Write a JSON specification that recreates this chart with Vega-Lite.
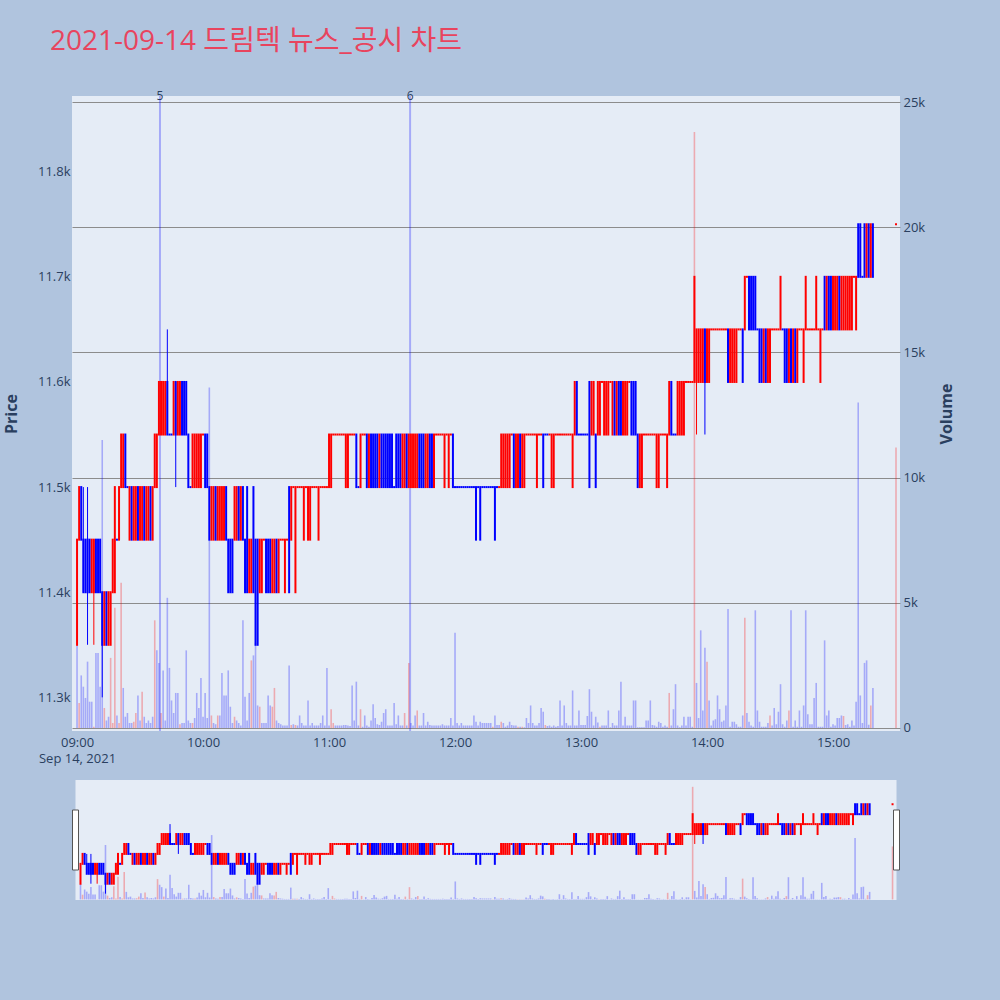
{
"$schema":"https://vega.github.io/schema/vega-lite/v6.json",
"background":"#b0c4de",
"padding":{"left":3,"top":28,"right":45,"bottom":106},
"autosize":{"type":"pad"},
"config":{"font":"Open Sans, Noto Sans CJK KR","view":{"stroke":null},"axis":{"labelColor":"#2a3f5f","titleColor":"#2a3f5f","labelFont":"Open Sans","titleFont":"Open Sans","labelFontSize":13,"domain":false,"ticks":false,"labelOverlap":false,"labelFlush":false}},
"title":{"text":"2021-09-14 드림텍 뉴스_공시 차트","anchor":"start","frame":"group","fontSize":28,"fontWeight":"normal","color":"#e8445e","font":"Open Sans, Noto Sans CJK KR","dx":-22,"offset":34},
"data":{"values":[
{"t":"2021-09-14T09:00Z","o":11350,"c":11450,"v":3300,"d":"u"},
{"t":"2021-09-14T09:01Z","o":11450,"c":11500,"v":1000,"d":"u","vu":1},
{"t":"2021-09-14T09:02Z","o":11500,"c":11450,"v":2100,"d":"d"},
{"t":"2021-09-14T09:03Z","o":11450,"c":11400,"h":11500,"l":11400,"v":1650,"d":"d"},
{"t":"2021-09-14T09:04Z","o":11450,"c":11400,"v":1200,"d":"d"},
{"t":"2021-09-14T09:05Z","o":11450,"c":11400,"h":11500,"l":11350,"v":2650,"d":"d"},
{"t":"2021-09-14T09:06Z","o":11450,"c":11400,"v":1050,"d":"d"},
{"t":"2021-09-14T09:07Z","o":11400,"c":11450,"v":1050,"d":"u"},
{"t":"2021-09-14T09:08Z","o":11400,"c":11450,"h":11450,"l":11350,"v":50,"d":"u","vu":1},
{"t":"2021-09-14T09:09Z","o":11450,"c":11400,"v":3000,"d":"d"},
{"t":"2021-09-14T09:10Z","o":11450,"c":11400,"v":3000,"d":"d"},
{"t":"2021-09-14T09:11Z","o":11450,"c":11400,"v":1650,"d":"d"},
{"t":"2021-09-14T09:12Z","o":11400,"c":11350,"h":11400,"l":11300,"v":11500,"d":"d"},
{"t":"2021-09-14T09:13Z","o":11350,"c":11400,"v":800,"d":"u","vu":1},
{"t":"2021-09-14T09:14Z","o":11400,"c":11350,"v":300,"d":"d"},
{"t":"2021-09-14T09:15Z","o":11350,"c":11400,"v":450,"d":"u"},
{"t":"2021-09-14T09:16Z","o":11350,"c":11400,"v":2800,"d":"u","vu":1},
{"t":"2021-09-14T09:17Z","o":11400,"c":11450,"v":200,"d":"u","vu":1},
{"t":"2021-09-14T09:18Z","o":11400,"c":11500,"v":4800,"d":"u","vu":1},
{"t":"2021-09-14T09:19Z","o":11450,"c":11450,"v":500,"d":"d"},
{"t":"2021-09-14T09:20Z","o":11450,"c":11500,"v":200,"d":"u","vu":1},
{"t":"2021-09-14T09:21Z","o":11500,"c":11550,"v":5800,"d":"u","vu":1},
{"t":"2021-09-14T09:22Z","o":11500,"c":11550,"v":1600,"d":"u"},
{"t":"2021-09-14T09:23Z","o":11550,"c":11500,"v":450,"d":"d"},
{"t":"2021-09-14T09:24Z","o":11500,"c":11500,"v":600,"d":"d"},
{"t":"2021-09-14T09:25Z","o":11450,"c":11500,"v":200,"d":"u"},
{"t":"2021-09-14T09:26Z","o":11500,"c":11450,"v":200,"d":"d"},
{"t":"2021-09-14T09:27Z","o":11450,"c":11500,"v":250,"d":"u","vu":1},
{"t":"2021-09-14T09:28Z","o":11450,"c":11500,"v":600,"d":"u","vu":1},
{"t":"2021-09-14T09:29Z","o":11500,"c":11450,"v":1300,"d":"d"},
{"t":"2021-09-14T09:30Z","o":11450,"c":11500,"v":300,"d":"u"},
{"t":"2021-09-14T09:31Z","o":11450,"c":11500,"v":1450,"d":"u","vu":1},
{"t":"2021-09-14T09:32Z","o":11500,"c":11450,"v":450,"d":"d"},
{"t":"2021-09-14T09:33Z","o":11450,"c":11500,"v":200,"d":"u"},
{"t":"2021-09-14T09:34Z","o":11450,"c":11500,"v":300,"d":"u"},
{"t":"2021-09-14T09:35Z","o":11500,"c":11450,"v":200,"d":"d"},
{"t":"2021-09-14T09:36Z","o":11450,"c":11500,"v":450,"d":"u"},
{"t":"2021-09-14T09:37Z","o":11500,"c":11550,"v":4300,"d":"u","vu":1},
{"t":"2021-09-14T09:38Z","o":11500,"c":11550,"v":3100,"d":"u"},
{"t":"2021-09-14T09:39Z","o":11550,"c":11600,"v":2600,"d":"u"},
{"t":"2021-09-14T09:40Z","o":11550,"c":11600,"v":600,"d":"u","vu":1},
{"t":"2021-09-14T09:41Z","o":11550,"c":11600,"v":2300,"d":"u"},
{"t":"2021-09-14T09:42Z","o":11550,"c":11600,"v":300,"d":"u"},
{"t":"2021-09-14T09:43Z","o":11600,"c":11550,"h":11650,"l":11550,"v":5200,"d":"d"},
{"t":"2021-09-14T09:44Z","o":11550,"c":11550,"v":2400,"d":"d"},
{"t":"2021-09-14T09:45Z","o":11550,"c":11550,"v":1100,"d":"d"},
{"t":"2021-09-14T09:46Z","o":11550,"c":11600,"v":600,"d":"u"},
{"t":"2021-09-14T09:47Z","o":11600,"c":11550,"h":11600,"l":11500,"v":1400,"d":"d"},
{"t":"2021-09-14T09:48Z","o":11550,"c":11600,"v":1400,"d":"u"},
{"t":"2021-09-14T09:49Z","o":11550,"c":11600,"v":150,"d":"u","vu":1},
{"t":"2021-09-14T09:50Z","o":11600,"c":11550,"v":200,"d":"d"},
{"t":"2021-09-14T09:51Z","o":11600,"c":11550,"v":200,"d":"d"},
{"t":"2021-09-14T09:52Z","o":11600,"c":11550,"v":3100,"d":"d"},
{"t":"2021-09-14T09:53Z","o":11550,"c":11500,"v":300,"d":"d"},
{"t":"2021-09-14T09:54Z","o":11500,"c":11500,"v":200,"d":"d"},
{"t":"2021-09-14T09:55Z","o":11500,"c":11550,"v":200,"d":"u","vu":1},
{"t":"2021-09-14T09:56Z","o":11500,"c":11550,"v":400,"d":"u"},
{"t":"2021-09-14T09:57Z","o":11500,"c":11550,"v":1400,"d":"u"},
{"t":"2021-09-14T09:58Z","o":11500,"c":11550,"v":800,"d":"u"},
{"t":"2021-09-14T09:59Z","o":11500,"c":11550,"v":2000,"d":"u"},
{"t":"2021-09-14T10:00Z","o":11550,"c":11550,"v":450,"d":"u"},
{"t":"2021-09-14T10:01Z","o":11550,"c":11500,"v":1400,"d":"d"},
{"t":"2021-09-14T10:02Z","o":11550,"c":11500,"v":400,"d":"d"},
{"t":"2021-09-14T10:03Z","o":11500,"c":11450,"v":13600,"d":"d"},
{"t":"2021-09-14T10:04Z","o":11450,"c":11500,"v":500,"d":"u","vu":1},
{"t":"2021-09-14T10:05Z","o":11450,"c":11500,"v":200,"d":"u"},
{"t":"2021-09-14T10:06Z","o":11500,"c":11450,"v":150,"d":"d"},
{"t":"2021-09-14T10:07Z","o":11450,"c":11500,"v":500,"d":"u","vu":1},
{"t":"2021-09-14T10:08Z","o":11450,"c":11500,"v":500,"d":"u"},
{"t":"2021-09-14T10:09Z","o":11450,"c":11500,"v":2200,"d":"u"},
{"t":"2021-09-14T10:10Z","o":11450,"c":11500,"v":1300,"d":"u"},
{"t":"2021-09-14T10:11Z","o":11500,"c":11450,"v":1300,"d":"d"},
{"t":"2021-09-14T10:12Z","o":11450,"c":11400,"v":2300,"d":"d"},
{"t":"2021-09-14T10:13Z","o":11450,"c":11400,"v":850,"d":"d"},
{"t":"2021-09-14T10:14Z","o":11450,"c":11400,"v":200,"d":"d"},
{"t":"2021-09-14T10:15Z","o":11450,"c":11500,"v":450,"d":"u","vu":1},
{"t":"2021-09-14T10:16Z","o":11450,"c":11500,"v":300,"d":"u"},
{"t":"2021-09-14T10:17Z","o":11500,"c":11450,"v":200,"d":"d"},
{"t":"2021-09-14T10:18Z","o":11450,"c":11500,"v":100,"d":"u"},
{"t":"2021-09-14T10:19Z","o":11500,"c":11450,"v":4300,"d":"d"},
{"t":"2021-09-14T10:20Z","o":11450,"c":11400,"v":1250,"d":"d"},
{"t":"2021-09-14T10:21Z","o":11500,"c":11400,"v":300,"d":"d"},
{"t":"2021-09-14T10:22Z","o":11400,"c":11450,"v":1400,"d":"u"},
{"t":"2021-09-14T10:23Z","o":11400,"c":11450,"v":2700,"d":"u","vu":1},
{"t":"2021-09-14T10:24Z","o":11500,"c":11400,"v":2900,"d":"d"},
{"t":"2021-09-14T10:25Z","o":11450,"c":11350,"v":3400,"d":"d"},
{"t":"2021-09-14T10:26Z","o":11450,"c":11350,"v":900,"d":"d"},
{"t":"2021-09-14T10:27Z","o":11400,"c":11450,"v":850,"d":"u","vu":1},
{"t":"2021-09-14T10:28Z","o":11400,"c":11450,"v":200,"d":"u"},
{"t":"2021-09-14T10:29Z","o":11450,"c":11450,"v":200,"d":"u"},
{"t":"2021-09-14T10:30Z","o":11450,"c":11400,"v":200,"d":"d"},
{"t":"2021-09-14T10:31Z","o":11450,"c":11400,"v":1300,"d":"d"},
{"t":"2021-09-14T10:32Z","o":11450,"c":11400,"v":900,"d":"d"},
{"t":"2021-09-14T10:33Z","o":11400,"c":11450,"v":850,"d":"u","vu":1},
{"t":"2021-09-14T10:34Z","o":11400,"c":11450,"v":1600,"d":"u","vu":1},
{"t":"2021-09-14T10:35Z","o":11450,"c":11400,"v":300,"d":"d"},
{"t":"2021-09-14T10:36Z","o":11400,"c":11450,"v":200,"d":"u"},
{"t":"2021-09-14T10:37Z","o":11450,"c":11450,"v":150,"d":"u"},
{"t":"2021-09-14T10:38Z","o":11450,"c":11450,"v":100,"d":"u"},
{"t":"2021-09-14T10:39Z","o":11400,"c":11450,"v":100,"d":"u"},
{"t":"2021-09-14T10:40Z","o":11450,"c":11450,"v":100,"d":"u"},
{"t":"2021-09-14T10:41Z","o":11500,"c":11400,"v":2500,"d":"d"},
{"t":"2021-09-14T10:42Z","o":11450,"c":11500,"v":120,"d":"u","vu":1},
{"t":"2021-09-14T10:43Z","o":11500,"c":11500,"v":150,"d":"u"},
{"t":"2021-09-14T10:44Z","o":11400,"c":11500,"v":120,"d":"u","vu":1},
{"t":"2021-09-14T10:45Z","o":11500,"c":11500,"v":100,"d":"u"},
{"t":"2021-09-14T10:46Z","o":11500,"c":11500,"v":500,"d":"u"},
{"t":"2021-09-14T10:47Z","o":11500,"c":11500,"v":200,"d":"u"},
{"t":"2021-09-14T10:48Z","o":11450,"c":11500,"v":100,"d":"u"},
{"t":"2021-09-14T10:49Z","o":11500,"c":11500,"v":100,"d":"u"},
{"t":"2021-09-14T10:50Z","o":11450,"c":11500,"v":1100,"d":"u"},
{"t":"2021-09-14T10:51Z","o":11450,"c":11500,"v":100,"d":"u"},
{"t":"2021-09-14T10:52Z","o":11500,"c":11500,"v":200,"d":"u"},
{"t":"2021-09-14T10:53Z","o":11500,"c":11500,"v":100,"d":"u"},
{"t":"2021-09-14T10:54Z","o":11500,"c":11500,"v":100,"d":"u"},
{"t":"2021-09-14T10:55Z","o":11450,"c":11500,"v":100,"d":"u"},
{"t":"2021-09-14T10:56Z","o":11500,"c":11500,"v":200,"d":"u"},
{"t":"2021-09-14T10:57Z","o":11500,"c":11500,"v":500,"d":"u"},
{"t":"2021-09-14T10:58Z","o":11500,"c":11500,"v":100,"d":"u"},
{"t":"2021-09-14T10:59Z","o":11500,"c":11500,"v":2400,"d":"u"},
{"t":"2021-09-14T11:00Z","o":11500,"c":11550,"v":100,"d":"u"},
{"t":"2021-09-14T11:01Z","o":11500,"c":11550,"v":750,"d":"u","vu":1},
{"t":"2021-09-14T11:02Z","o":11550,"c":11550,"v":200,"d":"u","vu":1},
{"t":"2021-09-14T11:03Z","o":11550,"c":11550,"v":100,"d":"u"},
{"t":"2021-09-14T11:04Z","o":11550,"c":11550,"v":100,"d":"u"},
{"t":"2021-09-14T11:05Z","o":11550,"c":11550,"v":100,"d":"u"},
{"t":"2021-09-14T11:06Z","o":11550,"c":11550,"v":100,"d":"u"},
{"t":"2021-09-14T11:07Z","o":11550,"c":11550,"v":120,"d":"u"},
{"t":"2021-09-14T11:08Z","o":11500,"c":11550,"v":120,"d":"u"},
{"t":"2021-09-14T11:09Z","o":11500,"c":11550,"v":100,"d":"u"},
{"t":"2021-09-14T11:10Z","o":11550,"c":11550,"v":80,"d":"u"},
{"t":"2021-09-14T11:11Z","o":11550,"c":11550,"v":1700,"d":"u"},
{"t":"2021-09-14T11:12Z","o":11550,"c":11550,"v":300,"d":"u"},
{"t":"2021-09-14T11:13Z","o":11550,"c":11500,"v":1850,"d":"d"},
{"t":"2021-09-14T11:14Z","o":11500,"c":11500,"v":100,"d":"d"},
{"t":"2021-09-14T11:15Z","o":11500,"c":11550,"v":750,"d":"u","vu":1},
{"t":"2021-09-14T11:16Z","o":11550,"c":11550,"v":50,"d":"u"},
{"t":"2021-09-14T11:17Z","o":11550,"c":11550,"v":500,"d":"u"},
{"t":"2021-09-14T11:18Z","o":11550,"c":11500,"v":100,"d":"d"},
{"t":"2021-09-14T11:19Z","o":11500,"c":11550,"v":50,"d":"u"},
{"t":"2021-09-14T11:20Z","o":11550,"c":11500,"v":300,"d":"d"},
{"t":"2021-09-14T11:21Z","o":11550,"c":11500,"v":950,"d":"d"},
{"t":"2021-09-14T11:22Z","o":11550,"c":11500,"v":400,"d":"d"},
{"t":"2021-09-14T11:23Z","o":11550,"c":11500,"v":150,"d":"d"},
{"t":"2021-09-14T11:24Z","o":11500,"c":11550,"v":120,"d":"u"},
{"t":"2021-09-14T11:25Z","o":11550,"c":11500,"v":250,"d":"d"},
{"t":"2021-09-14T11:26Z","o":11550,"c":11500,"v":600,"d":"d"},
{"t":"2021-09-14T11:27Z","o":11550,"c":11500,"v":750,"d":"d"},
{"t":"2021-09-14T11:28Z","o":11550,"c":11500,"v":100,"d":"d"},
{"t":"2021-09-14T11:29Z","o":11550,"c":11500,"v":100,"d":"d"},
{"t":"2021-09-14T11:30Z","o":11550,"c":11500,"v":100,"d":"d"},
{"t":"2021-09-14T11:31Z","o":11500,"c":11500,"v":1000,"d":"d"},
{"t":"2021-09-14T11:32Z","o":11550,"c":11500,"v":150,"d":"d"},
{"t":"2021-09-14T11:33Z","o":11550,"c":11500,"v":500,"d":"d"},
{"t":"2021-09-14T11:34Z","o":11550,"c":11500,"v":100,"d":"d"},
{"t":"2021-09-14T11:35Z","o":11500,"c":11550,"v":100,"d":"u"},
{"t":"2021-09-14T11:36Z","o":11500,"c":11550,"v":600,"d":"u","vu":1},
{"t":"2021-09-14T11:37Z","o":11550,"c":11500,"v":100,"d":"d"},
{"t":"2021-09-14T11:38Z","o":11500,"c":11550,"v":2600,"d":"u","vu":1},
{"t":"2021-09-14T11:39Z","o":11500,"c":11550,"v":200,"d":"u"},
{"t":"2021-09-14T11:40Z","o":11500,"c":11550,"v":100,"d":"u"},
{"t":"2021-09-14T11:41Z","o":11500,"c":11550,"v":500,"d":"u"},
{"t":"2021-09-14T11:42Z","o":11500,"c":11550,"v":700,"d":"u","vu":1},
{"t":"2021-09-14T11:43Z","o":11550,"c":11500,"v":100,"d":"d"},
{"t":"2021-09-14T11:44Z","o":11550,"c":11500,"v":100,"d":"d"},
{"t":"2021-09-14T11:45Z","o":11550,"c":11500,"v":600,"d":"d"},
{"t":"2021-09-14T11:46Z","o":11500,"c":11550,"v":100,"d":"u"},
{"t":"2021-09-14T11:47Z","o":11500,"c":11550,"v":250,"d":"u"},
{"t":"2021-09-14T11:48Z","o":11550,"c":11500,"v":120,"d":"d"},
{"t":"2021-09-14T11:49Z","o":11550,"c":11500,"v":100,"d":"d"},
{"t":"2021-09-14T11:50Z","o":11500,"c":11550,"v":100,"d":"u"},
{"t":"2021-09-14T11:51Z","o":11550,"c":11550,"v":100,"d":"u"},
{"t":"2021-09-14T11:52Z","o":11550,"c":11550,"v":100,"d":"u"},
{"t":"2021-09-14T11:53Z","o":11550,"c":11550,"v":100,"d":"u"},
{"t":"2021-09-14T11:54Z","o":11550,"c":11550,"v":150,"d":"u"},
{"t":"2021-09-14T11:55Z","o":11500,"c":11550,"v":100,"d":"u"},
{"t":"2021-09-14T11:56Z","o":11550,"c":11550,"v":100,"d":"u"},
{"t":"2021-09-14T11:57Z","o":11500,"c":11550,"v":100,"d":"u"},
{"t":"2021-09-14T11:58Z","o":11550,"c":11550,"v":400,"d":"u"},
{"t":"2021-09-14T11:59Z","o":11550,"c":11500,"v":100,"d":"d"},
{"t":"2021-09-14T12:00Z","o":11500,"c":11500,"v":3800,"d":"d"},
{"t":"2021-09-14T12:01Z","o":11500,"c":11500,"v":200,"d":"d"},
{"t":"2021-09-14T12:02Z","o":11500,"c":11500,"v":100,"d":"d"},
{"t":"2021-09-14T12:03Z","o":11500,"c":11500,"v":200,"d":"d"},
{"t":"2021-09-14T12:04Z","o":11500,"c":11500,"v":100,"d":"d"},
{"t":"2021-09-14T12:05Z","o":11500,"c":11500,"v":100,"d":"d"},
{"t":"2021-09-14T12:06Z","o":11500,"c":11500,"v":100,"d":"d"},
{"t":"2021-09-14T12:07Z","o":11500,"c":11500,"v":100,"d":"d"},
{"t":"2021-09-14T12:08Z","o":11500,"c":11500,"v":100,"d":"d"},
{"t":"2021-09-14T12:09Z","o":11500,"c":11500,"v":500,"d":"d"},
{"t":"2021-09-14T12:10Z","o":11500,"c":11450,"v":250,"d":"d"},
{"t":"2021-09-14T12:11Z","o":11500,"c":11500,"v":100,"d":"d"},
{"t":"2021-09-14T12:12Z","o":11500,"c":11450,"v":250,"d":"d"},
{"t":"2021-09-14T12:13Z","o":11500,"c":11500,"v":200,"d":"d"},
{"t":"2021-09-14T12:14Z","o":11500,"c":11500,"v":200,"d":"d"},
{"t":"2021-09-14T12:15Z","o":11500,"c":11500,"v":200,"d":"d"},
{"t":"2021-09-14T12:16Z","o":11500,"c":11500,"v":200,"d":"d"},
{"t":"2021-09-14T12:17Z","o":11500,"c":11500,"v":200,"d":"d"},
{"t":"2021-09-14T12:18Z","o":11500,"c":11500,"v":50,"d":"d","vu":1},
{"t":"2021-09-14T12:19Z","o":11500,"c":11450,"v":500,"d":"d"},
{"t":"2021-09-14T12:20Z","o":11500,"c":11500,"v":120,"d":"d"},
{"t":"2021-09-14T12:21Z","o":11500,"c":11500,"v":120,"d":"u"},
{"t":"2021-09-14T12:22Z","o":11500,"c":11550,"v":250,"d":"u","vu":1},
{"t":"2021-09-14T12:23Z","o":11500,"c":11550,"v":200,"d":"u"},
{"t":"2021-09-14T12:24Z","o":11500,"c":11550,"v":50,"d":"u"},
{"t":"2021-09-14T12:25Z","o":11500,"c":11550,"v":100,"d":"u"},
{"t":"2021-09-14T12:26Z","o":11500,"c":11550,"v":250,"d":"u"},
{"t":"2021-09-14T12:27Z","o":11550,"c":11550,"v":120,"d":"u"},
{"t":"2021-09-14T12:28Z","o":11550,"c":11500,"v":100,"d":"d"},
{"t":"2021-09-14T12:29Z","o":11500,"c":11550,"v":100,"d":"u"},
{"t":"2021-09-14T12:30Z","o":11500,"c":11550,"v":50,"d":"u","vu":1},
{"t":"2021-09-14T12:31Z","o":11550,"c":11500,"v":50,"d":"d"},
{"t":"2021-09-14T12:32Z","o":11500,"c":11550,"v":50,"d":"u","vu":1},
{"t":"2021-09-14T12:33Z","o":11500,"c":11550,"v":30,"d":"u"},
{"t":"2021-09-14T12:34Z","o":11550,"c":11550,"v":400,"d":"u"},
{"t":"2021-09-14T12:35Z","o":11550,"c":11550,"v":200,"d":"u"},
{"t":"2021-09-14T12:36Z","o":11550,"c":11550,"v":900,"d":"u"},
{"t":"2021-09-14T12:37Z","o":11550,"c":11550,"v":200,"d":"u"},
{"t":"2021-09-14T12:38Z","o":11550,"c":11550,"v":100,"d":"u"},
{"t":"2021-09-14T12:39Z","o":11500,"c":11550,"v":100,"d":"u"},
{"t":"2021-09-14T12:40Z","o":11550,"c":11550,"v":200,"d":"u"},
{"t":"2021-09-14T12:41Z","o":11550,"c":11550,"v":800,"d":"u"},
{"t":"2021-09-14T12:42Z","o":11550,"c":11500,"v":650,"d":"d"},
{"t":"2021-09-14T12:43Z","o":11550,"c":11550,"v":120,"d":"d","vu":1},
{"t":"2021-09-14T12:44Z","o":11550,"c":11550,"v":80,"d":"d"},
{"t":"2021-09-14T12:45Z","o":11550,"c":11550,"v":100,"d":"u"},
{"t":"2021-09-14T12:46Z","o":11500,"c":11550,"v":50,"d":"u"},
{"t":"2021-09-14T12:47Z","o":11500,"c":11550,"v":100,"d":"u"},
{"t":"2021-09-14T12:48Z","o":11550,"c":11550,"v":50,"d":"u"},
{"t":"2021-09-14T12:49Z","o":11550,"c":11550,"v":80,"d":"u"},
{"t":"2021-09-14T12:50Z","o":11550,"c":11550,"v":1100,"d":"u"},
{"t":"2021-09-14T12:51Z","o":11550,"c":11550,"v":100,"d":"u"},
{"t":"2021-09-14T12:52Z","o":11550,"c":11550,"v":900,"d":"u"},
{"t":"2021-09-14T12:53Z","o":11550,"c":11550,"v":200,"d":"u"},
{"t":"2021-09-14T12:54Z","o":11550,"c":11550,"v":100,"d":"u"},
{"t":"2021-09-14T12:55Z","o":11550,"c":11550,"v":100,"d":"u"},
{"t":"2021-09-14T12:56Z","o":11500,"c":11550,"v":1500,"d":"u"},
{"t":"2021-09-14T12:57Z","o":11550,"c":11600,"v":100,"d":"u"},
{"t":"2021-09-14T12:58Z","o":11600,"c":11550,"v":100,"d":"d"},
{"t":"2021-09-14T12:59Z","o":11550,"c":11550,"v":700,"d":"d"},
{"t":"2021-09-14T13:00Z","o":11550,"c":11550,"v":120,"d":"d"},
{"t":"2021-09-14T13:01Z","o":11550,"c":11550,"v":120,"d":"d"},
{"t":"2021-09-14T13:02Z","o":11550,"c":11550,"v":120,"d":"d"},
{"t":"2021-09-14T13:03Z","o":11550,"c":11550,"v":480,"d":"d"},
{"t":"2021-09-14T13:04Z","o":11600,"c":11500,"v":1550,"d":"d"},
{"t":"2021-09-14T13:05Z","o":11550,"c":11600,"v":650,"d":"u"},
{"t":"2021-09-14T13:06Z","o":11550,"c":11600,"v":100,"d":"u"},
{"t":"2021-09-14T13:07Z","o":11550,"c":11500,"v":450,"d":"d"},
{"t":"2021-09-14T13:08Z","o":11550,"c":11600,"v":220,"d":"u"},
{"t":"2021-09-14T13:09Z","o":11550,"c":11600,"v":50,"d":"u","vu":1},
{"t":"2021-09-14T13:10Z","o":11600,"c":11600,"v":100,"d":"u"},
{"t":"2021-09-14T13:11Z","o":11550,"c":11600,"v":100,"d":"u"},
{"t":"2021-09-14T13:12Z","o":11550,"c":11600,"v":100,"d":"u"},
{"t":"2021-09-14T13:13Z","o":11550,"c":11600,"v":700,"d":"u"},
{"t":"2021-09-14T13:14Z","o":11600,"c":11600,"v":30,"d":"u"},
{"t":"2021-09-14T13:15Z","o":11550,"c":11600,"v":200,"d":"u"},
{"t":"2021-09-14T13:16Z","o":11600,"c":11550,"v":100,"d":"d"},
{"t":"2021-09-14T13:17Z","o":11550,"c":11600,"v":100,"d":"u"},
{"t":"2021-09-14T13:18Z","o":11600,"c":11550,"v":700,"d":"d"},
{"t":"2021-09-14T13:19Z","o":11600,"c":11550,"v":1850,"d":"d"},
{"t":"2021-09-14T13:20Z","o":11550,"c":11600,"v":100,"d":"u"},
{"t":"2021-09-14T13:21Z","o":11550,"c":11600,"v":450,"d":"u"},
{"t":"2021-09-14T13:22Z","o":11550,"c":11600,"v":100,"d":"u"},
{"t":"2021-09-14T13:23Z","o":11600,"c":11600,"v":100,"d":"u"},
{"t":"2021-09-14T13:24Z","o":11600,"c":11550,"v":100,"d":"d"},
{"t":"2021-09-14T13:25Z","o":11600,"c":11550,"v":1100,"d":"d"},
{"t":"2021-09-14T13:26Z","o":11600,"c":11550,"v":1100,"d":"d"},
{"t":"2021-09-14T13:27Z","o":11550,"c":11500,"v":30,"d":"d"},
{"t":"2021-09-14T13:28Z","o":11500,"c":11550,"v":30,"d":"u"},
{"t":"2021-09-14T13:29Z","o":11500,"c":11550,"v":30,"d":"u"},
{"t":"2021-09-14T13:30Z","o":11550,"c":11550,"v":30,"d":"u"},
{"t":"2021-09-14T13:31Z","o":11550,"c":11550,"v":300,"d":"u"},
{"t":"2021-09-14T13:32Z","o":11550,"c":11550,"v":300,"d":"u"},
{"t":"2021-09-14T13:33Z","o":11550,"c":11550,"v":1100,"d":"u"},
{"t":"2021-09-14T13:34Z","o":11550,"c":11550,"v":120,"d":"u"},
{"t":"2021-09-14T13:35Z","o":11550,"c":11550,"v":100,"d":"u"},
{"t":"2021-09-14T13:36Z","o":11500,"c":11550,"v":50,"d":"u"},
{"t":"2021-09-14T13:37Z","o":11500,"c":11550,"v":250,"d":"u"},
{"t":"2021-09-14T13:38Z","o":11550,"c":11550,"v":200,"d":"u"},
{"t":"2021-09-14T13:39Z","o":11550,"c":11550,"v":50,"d":"u"},
{"t":"2021-09-14T13:40Z","o":11550,"c":11550,"v":100,"d":"u"},
{"t":"2021-09-14T13:41Z","o":11500,"c":11550,"v":50,"d":"u"},
{"t":"2021-09-14T13:42Z","o":11550,"c":11600,"v":1400,"d":"u","vu":1},
{"t":"2021-09-14T13:43Z","o":11600,"c":11550,"v":100,"d":"d"},
{"t":"2021-09-14T13:44Z","o":11550,"c":11550,"v":750,"d":"d"},
{"t":"2021-09-14T13:45Z","o":11550,"c":11550,"v":1750,"d":"d"},
{"t":"2021-09-14T13:46Z","o":11550,"c":11600,"v":100,"d":"u"},
{"t":"2021-09-14T13:47Z","o":11550,"c":11600,"v":30,"d":"u"},
{"t":"2021-09-14T13:48Z","o":11550,"c":11600,"v":100,"d":"u"},
{"t":"2021-09-14T13:49Z","o":11550,"c":11600,"v":450,"d":"u"},
{"t":"2021-09-14T13:50Z","o":11600,"c":11600,"v":100,"d":"u"},
{"t":"2021-09-14T13:51Z","o":11600,"c":11600,"v":450,"d":"u"},
{"t":"2021-09-14T13:52Z","o":11600,"c":11600,"v":450,"d":"u"},
{"t":"2021-09-14T13:53Z","o":11600,"c":11600,"v":50,"d":"u"},
{"t":"2021-09-14T13:54Z","o":11600,"c":11700,"v":23800,"d":"u","vu":1},
{"t":"2021-09-14T13:55Z","o":11600,"c":11650,"h":11650,"l":11550,"v":1800,"d":"u"},
{"t":"2021-09-14T13:56Z","o":11600,"c":11650,"v":400,"d":"u"},
{"t":"2021-09-14T13:57Z","o":11600,"c":11650,"v":3900,"d":"u"},
{"t":"2021-09-14T13:58Z","o":11600,"c":11650,"v":700,"d":"u"},
{"t":"2021-09-14T13:59Z","o":11650,"c":11600,"h":11650,"l":11550,"v":3200,"d":"d"},
{"t":"2021-09-14T14:00Z","o":11600,"c":11650,"v":2650,"d":"u","vu":1},
{"t":"2021-09-14T14:01Z","o":11600,"c":11650,"v":1100,"d":"u"},
{"t":"2021-09-14T14:02Z","o":11650,"c":11650,"v":100,"d":"u"},
{"t":"2021-09-14T14:03Z","o":11650,"c":11650,"v":300,"d":"u"},
{"t":"2021-09-14T14:04Z","o":11650,"c":11650,"v":350,"d":"u"},
{"t":"2021-09-14T14:05Z","o":11650,"c":11650,"v":1300,"d":"u"},
{"t":"2021-09-14T14:06Z","o":11650,"c":11650,"v":750,"d":"u"},
{"t":"2021-09-14T14:07Z","o":11650,"c":11650,"v":250,"d":"u"},
{"t":"2021-09-14T14:08Z","o":11650,"c":11650,"v":300,"d":"u"},
{"t":"2021-09-14T14:09Z","o":11650,"c":11650,"v":900,"d":"u"},
{"t":"2021-09-14T14:10Z","o":11650,"c":11600,"v":4750,"d":"d"},
{"t":"2021-09-14T14:11Z","o":11600,"c":11650,"v":50,"d":"u"},
{"t":"2021-09-14T14:12Z","o":11600,"c":11650,"v":250,"d":"u"},
{"t":"2021-09-14T14:13Z","o":11600,"c":11650,"v":250,"d":"u"},
{"t":"2021-09-14T14:14Z","o":11600,"c":11650,"v":150,"d":"u"},
{"t":"2021-09-14T14:15Z","o":11650,"c":11650,"v":50,"d":"u"},
{"t":"2021-09-14T14:16Z","o":11650,"c":11650,"v":50,"d":"u"},
{"t":"2021-09-14T14:17Z","o":11650,"c":11600,"v":500,"d":"d"},
{"t":"2021-09-14T14:18Z","o":11650,"c":11700,"v":4400,"d":"u","vu":1},
{"t":"2021-09-14T14:19Z","o":11700,"c":11700,"v":600,"d":"u"},
{"t":"2021-09-14T14:20Z","o":11700,"c":11650,"v":250,"d":"d"},
{"t":"2021-09-14T14:21Z","o":11700,"c":11650,"v":100,"d":"d"},
{"t":"2021-09-14T14:22Z","o":11700,"c":11650,"v":50,"d":"d"},
{"t":"2021-09-14T14:23Z","o":11700,"c":11650,"v":4700,"d":"d"},
{"t":"2021-09-14T14:24Z","o":11650,"c":11650,"v":700,"d":"d"},
{"t":"2021-09-14T14:25Z","o":11650,"c":11600,"v":250,"d":"d"},
{"t":"2021-09-14T14:26Z","o":11650,"c":11600,"v":50,"d":"d"},
{"t":"2021-09-14T14:27Z","o":11600,"c":11650,"v":50,"d":"u"},
{"t":"2021-09-14T14:28Z","o":11650,"c":11600,"v":50,"d":"d"},
{"t":"2021-09-14T14:29Z","o":11600,"c":11650,"v":200,"d":"u"},
{"t":"2021-09-14T14:30Z","o":11600,"c":11650,"v":500,"d":"u","vu":1},
{"t":"2021-09-14T14:31Z","o":11650,"c":11650,"v":100,"d":"u"},
{"t":"2021-09-14T14:32Z","o":11650,"c":11650,"v":800,"d":"u"},
{"t":"2021-09-14T14:33Z","o":11650,"c":11650,"v":150,"d":"u"},
{"t":"2021-09-14T14:34Z","o":11650,"c":11650,"v":650,"d":"u"},
{"t":"2021-09-14T14:35Z","o":11650,"c":11700,"v":1750,"d":"u"},
{"t":"2021-09-14T14:36Z","o":11650,"c":11650,"v":150,"d":"d"},
{"t":"2021-09-14T14:37Z","o":11650,"c":11600,"v":50,"d":"d"},
{"t":"2021-09-14T14:38Z","o":11650,"c":11600,"v":300,"d":"d"},
{"t":"2021-09-14T14:39Z","o":11600,"c":11650,"v":700,"d":"u","vu":1},
{"t":"2021-09-14T14:40Z","o":11650,"c":11600,"v":4700,"d":"d"},
{"t":"2021-09-14T14:41Z","o":11600,"c":11650,"v":50,"d":"u"},
{"t":"2021-09-14T14:42Z","o":11650,"c":11600,"v":300,"d":"d"},
{"t":"2021-09-14T14:43Z","o":11600,"c":11650,"v":50,"d":"u"},
{"t":"2021-09-14T14:44Z","o":11650,"c":11650,"v":700,"d":"u"},
{"t":"2021-09-14T14:45Z","o":11650,"c":11650,"v":50,"d":"u"},
{"t":"2021-09-14T14:46Z","o":11600,"c":11650,"v":900,"d":"u"},
{"t":"2021-09-14T14:47Z","o":11650,"c":11700,"v":4700,"d":"u"},
{"t":"2021-09-14T14:48Z","o":11650,"c":11650,"v":550,"d":"u"},
{"t":"2021-09-14T14:49Z","o":11650,"c":11650,"v":150,"d":"u"},
{"t":"2021-09-14T14:50Z","o":11650,"c":11650,"v":150,"d":"u"},
{"t":"2021-09-14T14:51Z","o":11650,"c":11650,"v":1200,"d":"u"},
{"t":"2021-09-14T14:52Z","o":11650,"c":11700,"v":1800,"d":"u"},
{"t":"2021-09-14T14:53Z","o":11650,"c":11650,"v":50,"d":"u"},
{"t":"2021-09-14T14:54Z","o":11600,"c":11650,"v":50,"d":"u"},
{"t":"2021-09-14T14:55Z","o":11650,"c":11650,"v":50,"d":"u"},
{"t":"2021-09-14T14:56Z","o":11700,"c":11650,"v":3500,"d":"d"},
{"t":"2021-09-14T14:57Z","o":11650,"c":11700,"v":500,"d":"u"},
{"t":"2021-09-14T14:58Z","o":11700,"c":11650,"v":700,"d":"d"},
{"t":"2021-09-14T14:59Z","o":11700,"c":11650,"v":50,"d":"d"},
{"t":"2021-09-14T15:00Z","o":11650,"c":11700,"v":150,"d":"u"},
{"t":"2021-09-14T15:01Z","o":11650,"c":11700,"v":100,"d":"u"},
{"t":"2021-09-14T15:02Z","o":11650,"c":11700,"v":400,"d":"u"},
{"t":"2021-09-14T15:03Z","o":11700,"c":11650,"v":400,"d":"d"},
{"t":"2021-09-14T15:04Z","o":11650,"c":11700,"v":500,"d":"u"},
{"t":"2021-09-14T15:05Z","o":11650,"c":11700,"v":480,"d":"u","vu":1},
{"t":"2021-09-14T15:06Z","o":11650,"c":11700,"v":120,"d":"u"},
{"t":"2021-09-14T15:07Z","o":11650,"c":11700,"v":150,"d":"u"},
{"t":"2021-09-14T15:08Z","o":11650,"c":11700,"v":50,"d":"u"},
{"t":"2021-09-14T15:09Z","o":11650,"c":11700,"v":300,"d":"u"},
{"t":"2021-09-14T15:10Z","o":11700,"c":11700,"v":100,"d":"u"},
{"t":"2021-09-14T15:11Z","o":11650,"c":11700,"v":1050,"d":"u"},
{"t":"2021-09-14T15:12Z","o":11750,"c":11700,"v":13000,"d":"d"},
{"t":"2021-09-14T15:13Z","o":11750,"c":11700,"v":1300,"d":"d"},
{"t":"2021-09-14T15:14Z","o":11700,"c":11700,"v":200,"d":"d"},
{"t":"2021-09-14T15:15Z","o":11750,"c":11700,"v":2600,"d":"d"},
{"t":"2021-09-14T15:16Z","o":11700,"c":11750,"v":2700,"d":"u"},
{"t":"2021-09-14T15:17Z","o":11750,"c":11700,"v":130,"d":"d"},
{"t":"2021-09-14T15:18Z","o":11700,"c":11750,"v":900,"d":"u","vu":1},
{"t":"2021-09-14T15:19Z","o":11750,"c":11700,"v":1600,"d":"d"},
{"t":"2021-09-14T15:30Z","o":11750,"c":11750,"v":11200,"d":"u","vu":1}
]},
"spacing":49,
"bounds":"flush",
"center":true,
"vconcat":[
{
"width":828,"height":635,
"view":{"fill":"#e5ecf6","stroke":null},
"encoding":{"x":{"field":"t","type":"temporal","title":null,
 "scale":{"type":"utc","nice":false,"padding":0,"domain":[{"year":2021,"month":9,"date":14,"hours":8,"minutes":57,"seconds":36,"utc":true},{"year":2021,"month":9,"date":14,"hours":15,"minutes":31,"seconds":54,"utc":true}]},
 "axis":{"grid":false,"labelPadding":5,"labelLineHeight":16,
  "values":[{"year":2021,"month":9,"date":14,"hours":9,"utc":true},{"year":2021,"month":9,"date":14,"hours":10,"utc":true},{"year":2021,"month":9,"date":14,"hours":11,"utc":true},{"year":2021,"month":9,"date":14,"hours":12,"utc":true},{"year":2021,"month":9,"date":14,"hours":13,"utc":true},{"year":2021,"month":9,"date":14,"hours":14,"utc":true},{"year":2021,"month":9,"date":14,"hours":15,"utc":true}],
  "labelExpr":"utchours(datum.value) == 9 ? ['09:00', 'Sep 14, 2021'] : utcFormat(datum.value, '%H:%M')"}}},
"layer":[
 {"mark":{"type":"bar","size":1.6,"opacity":0.28},
  "encoding":{
   "y":{"field":"v","type":"quantitative","scale":{"domain":[-120,25240]},
    "axis":{"orient":"right","title":"Volume","titleAngle":270,"values":[0,5000,10000,15000,20000,25000],"format":"~s","labelExpr":"datum.value == 0 ? '0' : datum.label","gridColor":"#8c8c8c","gridWidth":1.2,"labelPadding":3,"titlePadding":30,"titleFontSize":16,"titleFontWeight":"bold"}},
   "color":{"condition":{"test":"datum.vu == 1","value":"#ff0000"},"value":"#0000ff"}}},
 {"layer":[
  {"data":{"values":[{"t":"2021-09-14T09:39:30Z","n":"5"},{"t":"2021-09-14T11:38:36Z","n":"6"}]},
   "mark":{"type":"rule","color":"#0000ff","opacity":0.28,"strokeWidth":2},"encoding":{}},
  {"data":{"values":[{"t":"2021-09-14T09:39:30Z","n":"5"},{"t":"2021-09-14T11:38:36Z","n":"6"}]},
   "mark":{"type":"text","color":"#2a3f5f","fontSize":12,"baseline":"middle"},
   "encoding":{"y":{"datum":11872,"type":"quantitative","scale":{"domain":[11268,11872]}},"text":{"field":"n"}}},
  {"transform":[{"filter":{"field":"h","valid":true}}],
   "mark":{"type":"rule","strokeWidth":1},
   "encoding":{"y":{"field":"l","type":"quantitative","scale":{"domain":[11268,11872]}},"y2":{"field":"h"},
    "color":{"field":"d","type":"nominal","scale":{"domain":["u","d"],"range":["#ff0000","#0000ff"]},"legend":null}}},
  {"mark":{"type":"rule","strokeWidth":2,"strokeCap":"square"},
   "encoding":{"y":{"field":"o","type":"quantitative","scale":{"domain":[11268,11872]},
     "axis":{"title":"Price","values":[11300,11400,11500,11600,11700,11800],"format":"~s","gridColor":"#ffffff","gridWidth":1,"labelPadding":2,"titlePadding":18,"titleFontSize":16,"titleFontWeight":"bold"}},
    "y2":{"field":"c"},
    "color":{"field":"d","type":"nominal","scale":{"domain":["u","d"],"range":["#ff0000","#0000ff"]},"legend":null}}}
 ]}
],
"resolve":{"scale":{"y":"independent"}}
},
{
"width":821,"height":120,
"view":{"fill":"#e5ecf6","stroke":null},
"encoding":{"x":{"field":"t","type":"temporal","axis":null,
 "scale":{"type":"utc","nice":false,"padding":0,"domain":[{"year":2021,"month":9,"date":14,"hours":8,"minutes":57,"seconds":36,"utc":true},{"year":2021,"month":9,"date":14,"hours":15,"minutes":31,"seconds":54,"utc":true}]}}},
"layer":[
 {"mark":{"type":"bar","size":1.6,"opacity":0.28},
  "encoding":{"y":{"field":"v","type":"quantitative","scale":{"domain":[-120,25240]},"axis":null},
   "color":{"condition":{"test":"datum.vu == 1","value":"#ff0000"},"value":"#0000ff"}}},
 {"layer":[
  {"transform":[{"filter":{"field":"h","valid":true}}],
   "mark":{"type":"rule","strokeWidth":1},
   "encoding":{"y":{"field":"l","type":"quantitative","scale":{"domain":[11268,11872]},"axis":null},"y2":{"field":"h"},
    "color":{"field":"d","type":"nominal","scale":{"domain":["u","d"],"range":["#ff0000","#0000ff"]},"legend":null}}},
  {"mark":{"type":"rule","strokeWidth":2,"strokeCap":"square"},
   "encoding":{"y":{"field":"o","type":"quantitative","scale":{"domain":[11268,11872]},"axis":null},"y2":{"field":"c"},
    "color":{"field":"d","type":"nominal","scale":{"domain":["u","d"],"range":["#ff0000","#0000ff"]},"legend":null}}},
  {"data":{"values":[{"t":"2021-09-14T08:57:36Z"},{"t":"2021-09-14T15:31:54Z"}]},
   "mark":{"type":"tick","orient":"vertical","thickness":6,"size":60,"color":"#ffffff","stroke":"#555555","strokeWidth":1,"opacity":1},
   "encoding":{"y":{"datum":11570,"type":"quantitative","scale":{"domain":[11268,11872]},"axis":null}}}
 ]}
],
"resolve":{"scale":{"y":"independent"}}
}
]
}
